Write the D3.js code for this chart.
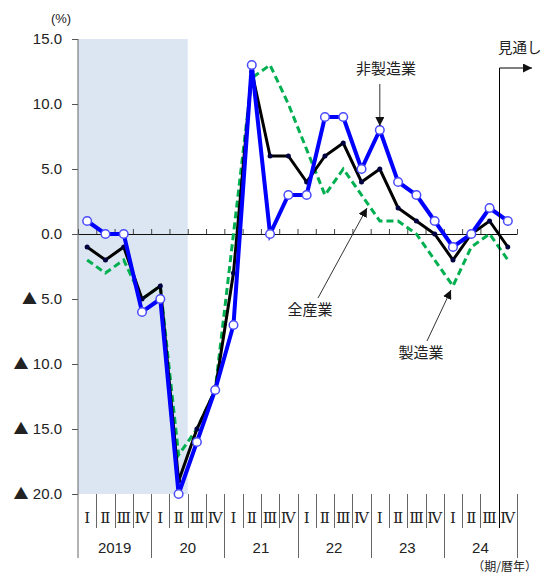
<!DOCTYPE html>
<html>
<head>
<meta charset="utf-8">
<script src="https://cdn.jsdelivr.net/npm/d3@7"></script>
<style>
  html, body { margin: 0; padding: 0; background: #fff; }
  svg { display: block; }
  text { font-family: "Liberation Sans", Arial, sans-serif; fill: #222; }
  .jp { font-family: "Noto Sans CJK JP", sans-serif; }
  .roman { font-family: "DejaVu Serif", "Liberation Serif", serif; }
</style>
</head>
<body>
<svg id="chart" width="543" height="576"></svg>
<script>
// ---- data ----
const quarterLabels = ["Ⅰ", "Ⅱ", "Ⅲ", "Ⅳ"];
const yearLabels = ["2019", "20", "21", "22", "23", "24"];
const yTicks = [-20, -15, -10, -5, 0, 5, 10, 15];
// 非製造業 (non-manufacturing)
const nonMfg = [1, 0, 0, -6, -5, -20, -16, -12, -7, 13, 0, 3, 3, 9, 9, 5, 8, 4, 3, 1, -1, 0, 2, 1];
// 全産業 (all industries)
const allInd = [-1, -2, -1, -5, -4, -19, -15, -12, -3, 12.5, 6, 6, 4, 6, 7, 4, 5, 2, 1, 0, -2, 0, 1, -1];
// 製造業 (manufacturing)
const mfg = [-2, -3, -2, -5, -4, -17, -15, -12, 0, 12, 13, 10, 6.5, 3, 5, 3, 1, 1, 0, -2, -4, -1, 0, -2];
const shadeQuarters = 6;      // shaded period: 2019 I - 2020 II
const outlookIndex = 23;      // 見通し starts at 2024 IV

const nQ = nonMfg.length;
const svg = d3.select("#chart");

const x = d3.scaleLinear().domain([0, nQ]).range([78, 517]);
const y = d3.scaleLinear().domain([-20, 15]).range([494, 39]);
const cx = i => x(i + 0.5);

// shading
svg.append("rect")
  .attr("x", x(0)).attr("y", y(15))
  .attr("width", x(shadeQuarters) - x(0))
  .attr("height", y(-20) - y(15))
  .attr("fill", "#dce6f2");

// y axis
const yAxis = d3.axisLeft(y)
  .tickValues(yTicks)
  .tickSize(6)
  .tickSizeOuter(0)
  .tickPadding(10)
  .tickFormat(d => (d < 0 ? -d : d).toFixed(1));
const gy = svg.append("g").attr("transform", `translate(${x(0)},0)`).call(yAxis);
gy.select(".domain").remove();
gy.selectAll(".tick line").attr("stroke", "#555");
gy.selectAll(".tick text").attr("font-size", 15).attr("fill", "#222")
  .style("font-family", "'Liberation Sans', Arial, sans-serif");
// negative marker triangles as part of the tick label text
gy.selectAll(".tick text").each(function(d) {
  if (d < 0) {
    const t = d3.select(this);
    const num = t.text();
    t.text(null);
    t.append("tspan").style("font-family", "'Noto Sans CJK JP', sans-serif")
      .attr("font-size", 15).text("▲");
    t.append("tspan").text(" " + num);
  }
});
// y axis line, extended through the label area
svg.append("line")
  .attr("x1", x(0)).attr("x2", x(0))
  .attr("y1", y(15)).attr("y2", 558)
  .attr("stroke", "#666").attr("stroke-width", 1);

svg.append("text").attr("x", 61).attr("y", 18).attr("dy", "0.35em")
  .attr("text-anchor", "middle").attr("font-size", 13).text("(%)");

// zero line with upward ticks
const zeroAxis = d3.axisTop(x)
  .tickValues(d3.range(0, nQ + 1))
  .tickSize(5)
  .tickSizeOuter(0)
  .tickFormat("");
const gz = svg.append("g").attr("transform", `translate(0,${y(0)})`).call(zeroAxis);
gz.select(".domain").attr("stroke", "#111").attr("stroke-width", 1.2);
gz.selectAll(".tick line").attr("stroke", "#444");

// x label separators
const bounds = d3.range(1, nQ + 1);
svg.append("g").selectAll("line").data(bounds).join("line")
  .attr("x1", d => Math.round(x(d)) + 0.5).attr("x2", d => Math.round(x(d)) + 0.5)
  .attr("y1", y(-20))
  .attr("y2", d => d % 4 === 0 ? 558 : 528)
  .attr("stroke", "#666").attr("stroke-width", 1);

// quarter labels
svg.append("g").selectAll("text").data(d3.range(nQ)).join("text")
  .attr("class", "roman")
  .attr("x", d => cx(d)).attr("y", 518).attr("dy", "0.35em")
  .attr("text-anchor", "middle").attr("font-size", 15)
  .text(d => quarterLabels[d % 4]);

// year labels
svg.append("g").selectAll("text").data(yearLabels).join("text")
  .attr("x", (d, i) => (x(i * 4) + x(i * 4 + 4)) / 2)
  .attr("y", 548).attr("dy", "0.35em")
  .attr("text-anchor", "middle").attr("font-size", 15)
  .text(d => d);

svg.append("text").attr("class", "jp")
  .attr("x", 537).attr("y", 567).attr("dy", "0.35em")
  .attr("text-anchor", "end").attr("font-size", 12)
  .text("（期/暦年）");

// series
const line = d3.line().x((d, i) => cx(i)).y(d => y(d));

svg.append("path").datum(mfg)
  .attr("d", line).attr("fill", "none")
  .attr("stroke", "#00b050").attr("stroke-width", 3)
  .attr("stroke-dasharray", "7,4");

svg.append("path").datum(allInd)
  .attr("d", line).attr("fill", "none")
  .attr("stroke", "#000").attr("stroke-width", 3)
  .attr("stroke-linejoin", "miter");
svg.append("g").selectAll("circle").data(allInd).join("circle")
  .attr("cx", (d, i) => cx(i)).attr("cy", d => y(d)).attr("r", 2.5)
  .attr("fill", "#000040");

svg.append("path").datum(nonMfg)
  .attr("d", line).attr("fill", "none")
  .attr("stroke", "#0000ff").attr("stroke-width", 4)
  .attr("stroke-linejoin", "miter");
svg.append("g").selectAll("circle").data(nonMfg).join("circle")
  .attr("cx", (d, i) => cx(i)).attr("cy", d => y(d)).attr("r", 4.3)
  .attr("fill", "#fff").attr("stroke", "#4a4aff").attr("stroke-width", 1.5);

// arrow marker
const defs = svg.append("defs");
defs.append("marker").attr("id", "ah")
  .attr("viewBox", "0 0 10 10").attr("refX", 10).attr("refY", 5)
  .attr("markerWidth", 9).attr("markerHeight", 9)
  .attr("markerUnits", "userSpaceOnUse")
  .attr("orient", "auto")
  .append("path").attr("d", "M0,0 L10,5 L0,10 z").attr("fill", "#111");

// outlook marker
const xo = Math.round(x(outlookIndex)) + 0.5;
svg.append("line").attr("x1", xo).attr("x2", xo).attr("y1", 68).attr("y2", 528)
  .attr("stroke", "#000").attr("stroke-width", 1);
svg.append("line").attr("x1", xo).attr("x2", 532).attr("y1", 68).attr("y2", 68)
  .attr("stroke", "#000").attr("stroke-width", 1).attr("marker-end", "url(#ah)");
svg.append("text").attr("class", "jp").attr("x", 498).attr("y", 48).attr("dy", "0.35em")
  .attr("font-size", 14.5).text("見通し");

// annotations
function annot(label, tx, ty, x1, y1, x2, y2) {
  svg.append("line").attr("x1", x1).attr("y1", y1).attr("x2", x2).attr("y2", y2)
    .attr("stroke", "#333").attr("stroke-width", 1).attr("marker-end", "url(#ah)");
  svg.append("text").attr("class", "jp").attr("x", tx).attr("y", ty).attr("dy", "0.35em")
    .attr("text-anchor", "middle").attr("font-size", 15).text(label);
}
annot("非製造業", 386, 69, cx(16), 84, cx(16), y(nonMfg[16]) - 4);
annot("全産業", 310, 310, 318, 298, 367, 208);
annot("製造業", 421, 353, 427, 341, 451, 290);
</script>
</body>
</html>
